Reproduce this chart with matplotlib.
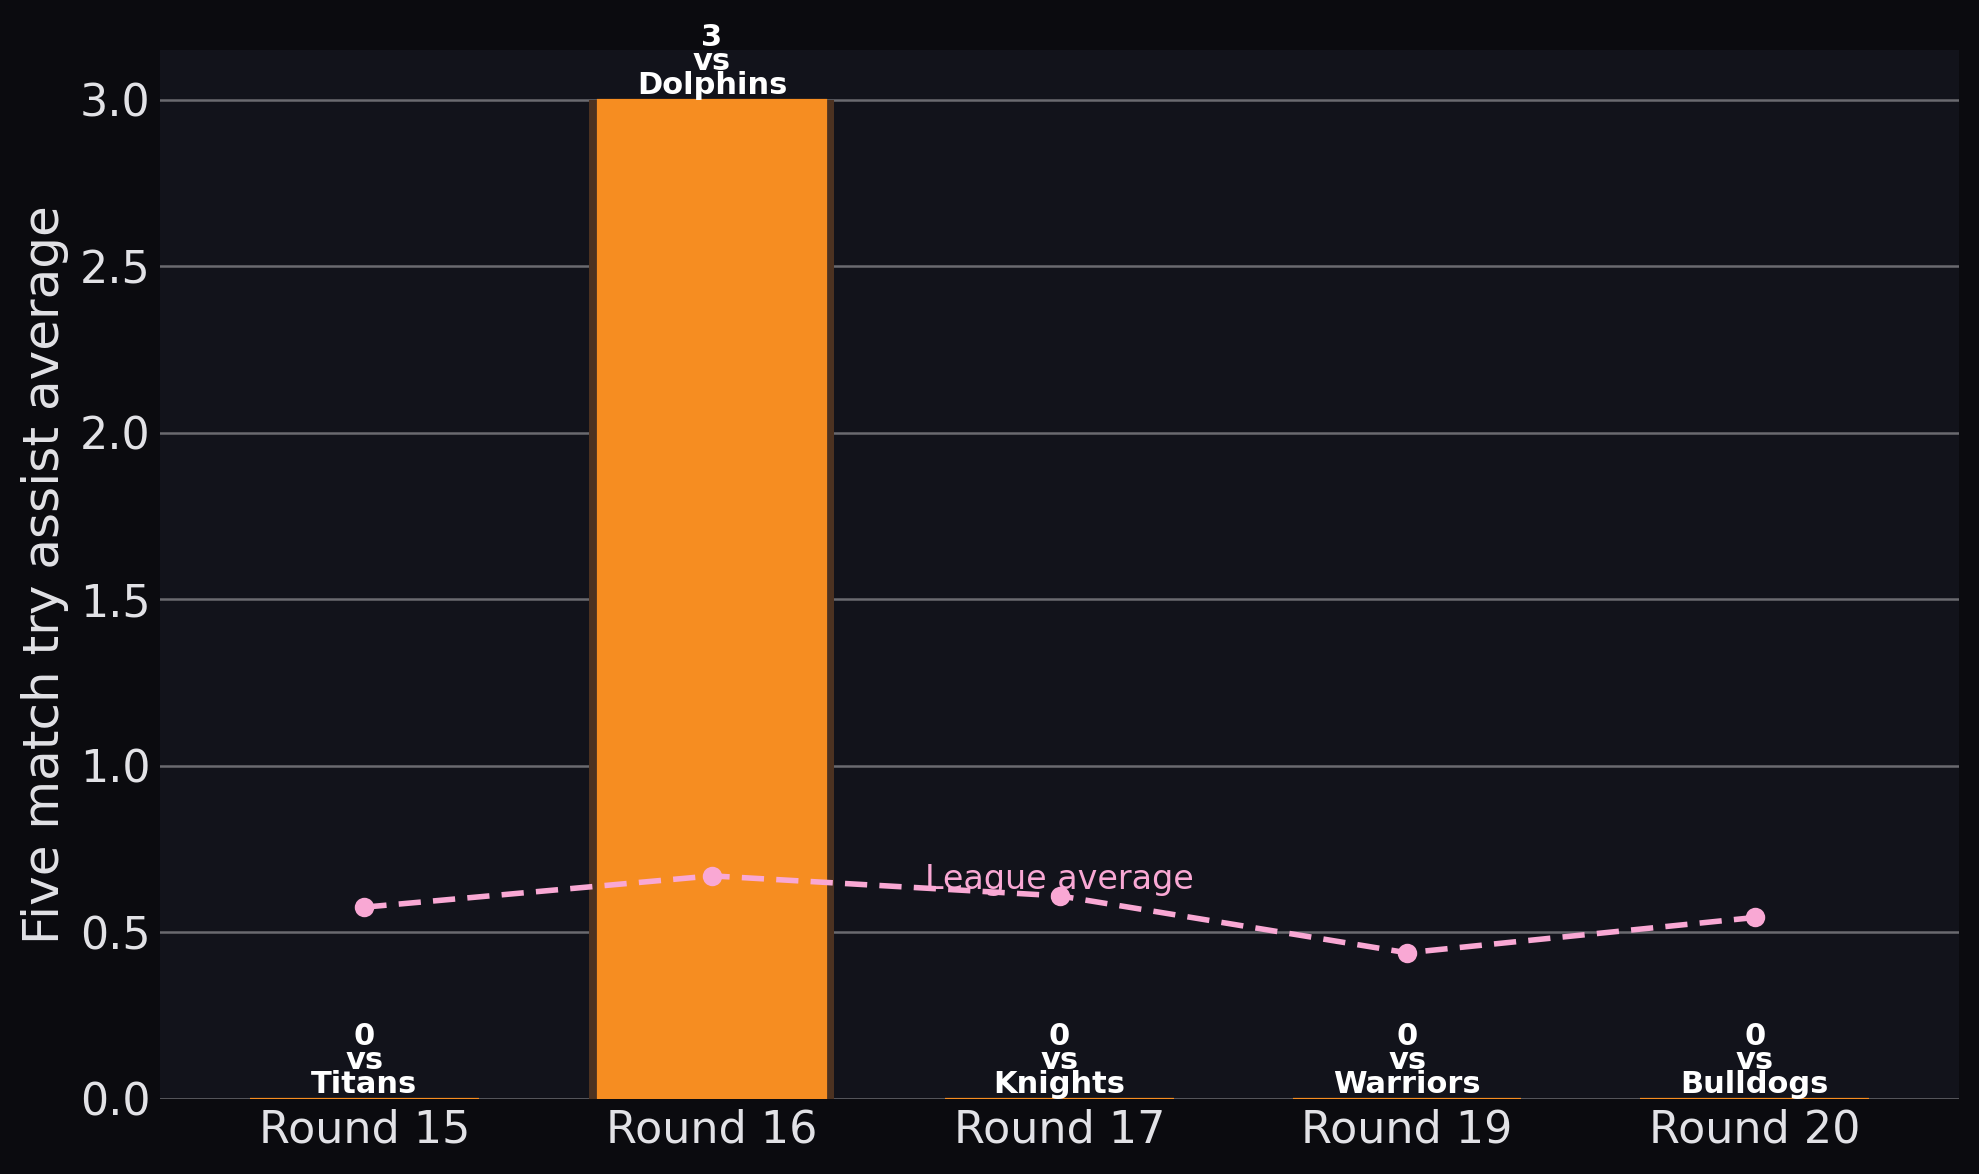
import matplotlib
matplotlib.use("Agg")
import matplotlib.pyplot as plt
import numpy as np

rounds = ["Round 15", "Round 16", "Round 17", "Round 19", "Round 20"]
opponents = ["Titans", "Dolphins", "Knights", "Warriors", "Bulldogs"]
assists = [0, 3, 0, 0, 0]
league_avg = [0.576, 0.670, 0.610, 0.439, 0.545]

FIG_BG = "#0b0b0f"
AX_BG = "#12131b"
ORANGE = "#f68d21"
GLOW = "#4c3221"
PINK = "#f9a8d4"
TXT = "#e2e2e6"

fig, ax = plt.subplots(figsize=(9.895, 5.87), dpi=200)
fig.patch.set_facecolor(FIG_BG)
ax.set_facecolor(AX_BG)

x = np.arange(len(rounds))
# soft glow behind the bars, then the bars themselves
ax.bar(x, assists, width=0.705, color=GLOW, zorder=2)
ax.bar(x, assists, width=0.658, color=ORANGE, edgecolor=ORANGE,
       linewidth=0.8, zorder=3)

for xi, v, opp in zip(x, assists, opponents):
    ax.text(xi, v, f"{v}\nvs\n{opp}", ha="center", va="bottom",
            color="white", fontsize=11, fontweight="bold",
            linespacing=0.78, zorder=5)

ax.plot(x, league_avg, ls="--", color=PINK, lw=2, marker="o", ms=6,
        dashes=(4, 2.2), zorder=4)
ax.text(x[2], league_avg[2], "League average", ha="center", va="bottom",
        color=PINK, fontsize=12, zorder=5)

ax.set_xticks(x)
ax.set_xticklabels(rounds)
ax.set_ylim(0, 3.15)
ax.set_yticks([0, 0.5, 1.0, 1.5, 2.0, 2.5, 3.0])
ax.tick_params(colors=TXT, labelsize=16, length=0)
ax.set_ylabel("Five match try assist average", color=TXT, fontsize=18)
ax.yaxis.grid(True, color="#6a6a70", lw=0.9, zorder=0)
ax.set_axisbelow(True)
for s in ax.spines.values():
    s.set_visible(False)

fig.subplots_adjust(left=0.0809, right=0.9899, top=0.9574, bottom=0.0639)
fig.savefig("out.png", dpi=200, facecolor=FIG_BG)
